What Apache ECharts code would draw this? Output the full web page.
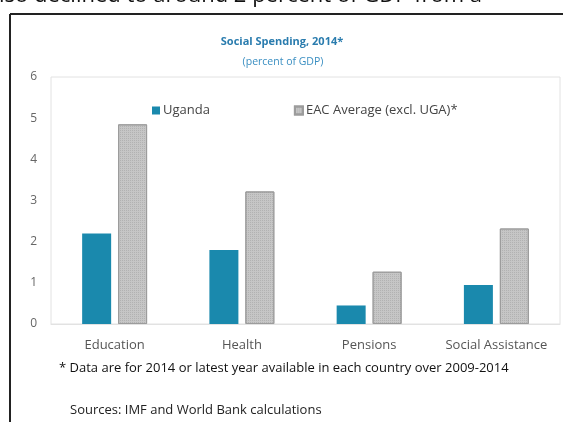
<!DOCTYPE html>
<html><head><meta charset="utf-8">
<script src="https://cdn.jsdelivr.net/npm/echarts@6/dist/echarts.min.js"></script>
<style>html,body{margin:0;padding:0;background:#fff}#c{width:563px;height:422px}</style>
</head><body><div id="c"></div>
<script>
const categories = ['Education', 'Health', 'Pensions', 'Social Assistance'];
const uganda = [2.2, 1.8, 0.45, 0.95];
const eacAverage = [4.85, 3.22, 1.27, 2.32];
const seriesNames = ['Uganda', 'EAC Average (excl. UGA)*'];
const yTicks = [0, 1, 2, 3, 4, 5, 6];

const chart = echarts.init(document.getElementById('c'), null, {renderer: 'canvas'});
const font = 'Open Sans';
chart.setOption({
  animation: false,
  backgroundColor: '#fff',
  grid: {left: 51, right: 3, top: 77, bottom: 98, show: true, borderColor: '#e2e2e2', borderWidth: 1},
  legend: {
    left: 147, top: 99, itemWidth: 8, itemHeight: 8, itemGap: 84,
    textStyle: {fontFamily: font, fontSize: 13, color: '#444', padding: [0,0,0,-2]},
    data: seriesNames.map(n => ({name: n, icon: 'rect'}))
  },
  xAxis: {
    type: 'category', data: categories,
    axisLine: {show: true, lineStyle: {color: '#e2e2e2'}},
    axisTick: {show: false},
    axisLabel: {fontFamily: font, fontSize: 13, color: '#555', margin: 15, interval: 0}
  },
  yAxis: {
    type: 'value', min: yTicks[0], max: yTicks[yTicks.length-1], interval: 1,
    splitLine: {show: false}, axisLine: {show: false}, axisTick: {show: false},
    axisLabel: {fontFamily: font, fontSize: 12, color: '#666', margin: 14}
  },
  series: [
    {name: seriesNames[0], type: 'bar', data: uganda, barWidth: 29, barGap: '24%',
     itemStyle: {color: '#1a89ad'}},
    {name: seriesNames[1], type: 'bar', data: eacAverage, barWidth: 29,
     itemStyle: {color: '#c6c6c6', borderColor: '#9c9c9c', borderWidth: 1,
       decal: {symbol: 'rect', symbolSize: 1, dashArrayX: [1, 1], dashArrayY: [1, 1], color: 'rgba(120,120,120,0.25)'}}}
  ],
  graphic: [
    {type: 'text', left: -1, top: -15, silent: true,
     style: {text: 'lso declined to around 2 percent of GDP from a', font: '22px "Open Sans"', fill: '#111'}},
    {type: 'line', shape: {x1: 10, y1: 14, x2: 563, y2: 14}, style: {stroke: '#222', lineWidth: 2}},
    {type: 'line', shape: {x1: 10, y1: 14, x2: 10, y2: 422}, style: {stroke: '#222', lineWidth: 2}},
    {type: 'text', x: 282, y: 42, style: {text: 'Social Spending, 2014*', font: 'bold 11px "Open Sans"', fill: '#2a7cae', textAlign: 'center', textVerticalAlign: 'middle'}},
    {type: 'text', x: 283, y: 62, style: {text: '(percent of GDP)', font: '10.5px "Open Sans"', fill: '#3b8fc2', textAlign: 'center', textVerticalAlign: 'middle'}},
    {type: 'text', x: 59, y: 368, style: {text: '* Data are for 2014 or latest year available in each country over 2009-2014', font: '13px "Open Sans"', fill: '#111', textVerticalAlign: 'middle'}},
    {type: 'text', x: 70, y: 410, style: {text: 'Sources: IMF and World Bank calculations', font: '13px "Open Sans"', fill: '#222', textVerticalAlign: 'middle'}}
  ]
});
</script></body></html>
